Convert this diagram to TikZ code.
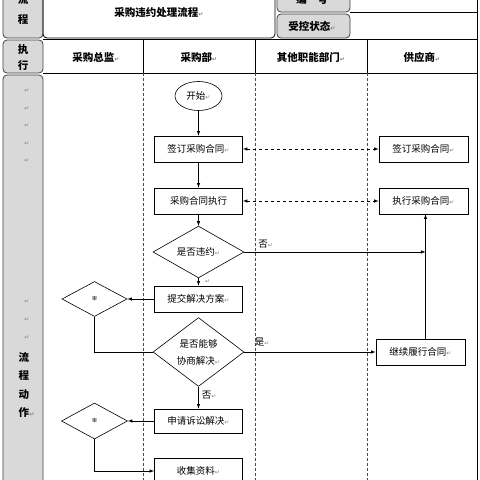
\documentclass[tikz,border=0pt]{standalone}
\usepackage{fontspec}
\setmainfont{Noto Sans CJK SC}
\newfontfamily\symfont{DejaVu Sans}
\usepackage{tikz}
\usetikzlibrary{shapes.geometric,positioning}
\definecolor{tabgrey}{HTML}{D9D9D9}
\newcommand{\rt}{{\symfont\fontsize{6}{6}\selectfont\color{gray}↵}}

\begin{document}
\begin{tikzpicture}[x=1pt,y=-1pt,->,>=latex,semithick,node distance=52pt,font=\fontsize{9.5}{12}\selectfont]
\tikzstyle{tab}=[-,draw=black!75,fill=tabgrey,rounded corners=4pt,thick]
\tikzstyle{box}=[draw,rectangle,minimum width=88pt,minimum height=26pt,inner sep=1pt]
\tikzstyle{ask}=[draw,diamond,minimum width=91pt,minimum height=35pt,inner sep=0pt]
\tikzstyle{lane}=[-,densely dashed,thin,black!70]
\tikzstyle{head}=[font=\fontsize{10.5}{13}\selectfont\bfseries]
\useasboundingbox (0,0) rectangle (480,480);
\draw[tab] (3,-12) rectangle (43,38);
\draw[tab] (3,40) rectangle (43,73);
\draw[tab] (3,75) rectangle (43,495);
\draw[tab] (277,-12) rectangle (350,12);
\draw[tab] (277,14) rectangle (350,38);
\draw[-,thick,rounded corners=4pt] (43,-12) rectangle (275,38);
\draw[-] (477,-5) -- (477,485);
\draw[-] (43,39) -- (477,39);
\draw[-] (43,73) -- (477,73);
\draw[-] (350,12) -- (477,12);
\foreach \x in {143,255,367} {
\draw[-] (\x,39) -- (\x,73);
\draw[lane] (\x,73) -- (\x,480);
}
\node[head,align=center,font=\fontsize{10.5}{20}\selectfont\bfseries] (flow) at (23,9) {流\\程};
\node[head,align=center,font=\fontsize{10.5}{16}\selectfont\bfseries] (run) at (23,58) {执\\行};
\node[head] (title) at (159,13) {采购违约处理流程\rt};
\node[head] (code) at (312,-1) {编\quad 号};
\node[head] (state) at (312,26) {受控状态\rt};
\node[head] (boss) at (96,57) {采购总监\rt};
\node[head] (dept) at (199,57) {采购部\rt};
\node[head] (other) at (311,57) {其他职能部门\rt};
\node[head] (vendor) at (422,57) {供应商\rt};
\foreach \y in {91,109,126,144,161,302,320,338} \node at (27,\y) {\rt};
\node[head,align=center,font=\fontsize{10.5}{18.3}\selectfont\bfseries] (act) at (24,385) {流\\程\\动\\作\rlap{\rt}};
\node[draw,ellipse,minimum width=47pt,minimum height=29pt,inner sep=0pt] (start) at (198.5,96) {开始\rt};
\node[box] (sign) [below of=start,node distance=53pt] {签订采购合同\rt};
\node[box] (exec) [below of=sign] {采购合同执行};
\node[ask] (breach) [below of=exec,node distance=51pt] {是否违约\rt};
\node[box] (submit) [below of=breach,node distance=47pt] {提交解决方案\rt};
\node[ask,minimum height=61pt,align=center,font=\fontsize{9.5}{17}\selectfont] (nego) [below of=submit,node distance=53pt] {是否能够\\协商解决\rt};
\node[box,minimum height=24pt] (sue) [below of=nego,node distance=69pt] {申请诉讼解决\rt};
\node[box] (collect) [below of=sue,node distance=50pt] {收集资料\rt};
\node[box,minimum width=89pt] (ssign) [right of=sign,node distance=225pt] {签订采购合同\rt};
\node[box,minimum width=89pt] (sexec) [right of=exec,node distance=225pt] {执行采购合同\rt};
\node[box,minimum width=89pt] (cont) [right of=nego,node distance=222pt] {继续履行合同\rt};
\node[ask,minimum width=65pt,font=\fontsize{5}{5}\selectfont] (d1) [left of=submit,node distance=104pt] {审};
\node[ask,minimum width=66pt,minimum height=36pt,font=\fontsize{5}{5}\selectfont] (d2) [left of=sue,node distance=104pt] {审};
\coordinate (up) at ([xshift=5pt]cont.north);
\path
(start) edge (sign)
(sign) edge (exec)
(exec) edge (breach)
(breach) edge node[pos=0.5,anchor=west,xshift=3pt] {\rt} (submit)
(nego) edge node[pos=0.4,anchor=west,inner sep=3pt] {否\rt} (sue)
(nego) edge node[pos=0.04,anchor=south west,inner sep=5pt] {是\rt} (cont)
(submit) edge (d1)
(sue) edge (d2)
(up) edge (up |- sexec.south);
\path[<->,dashed]
(sign) edge (ssign)
(exec) edge (sexec);
\draw (breach) -- node[pos=0.06,anchor=south west,inner sep=3pt] {否\rt} (breach -| up);
\draw[-] (d1) |- (nego);
\draw (d2) |- (collect);
\end{tikzpicture}
\end{document}
